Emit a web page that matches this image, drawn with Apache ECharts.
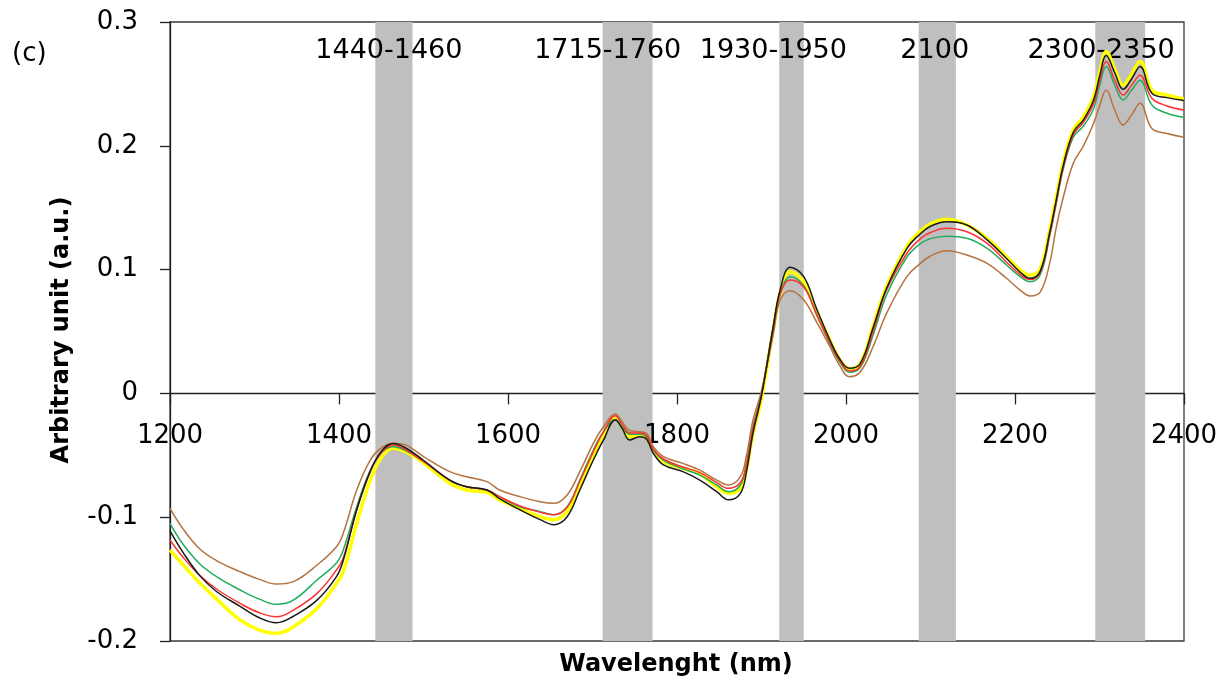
<!DOCTYPE html>
<html>
<head>
<meta charset="utf-8">
<title>NIR spectra (c)</title>
<script src="https://cdn.jsdelivr.net/npm/echarts@6.0.0/dist/echarts.min.js"></script>
<style>
  html, body { margin: 0; padding: 0; background: #ffffff; }
  #chart { width: 1229px; height: 684px; }
</style>
</head>
<body>
<div id="chart"></div>
<script>
// Wavelength grid (nm)
const wavelengths = [1200, 1215, 1235, 1255, 1283, 1305, 1326, 1346, 1374, 1397, 1405, 1421, 1437, 1450, 1464, 1480, 1500, 1531, 1551, 1575, 1590, 1614, 1638, 1654, 1670, 1685, 1701, 1713, 1727, 1735, 1744, 1756, 1764, 1772, 1784, 1807, 1827, 1847, 1861, 1875, 1882, 1890, 1900, 1914, 1922, 1934, 1950, 1965, 1981, 1992, 2004, 2017, 2032, 2048, 2072, 2088, 2100, 2119, 2143, 2167, 2190, 2206, 2218, 2230, 2241, 2249, 2257, 2269, 2281, 2293, 2300, 2308, 2318, 2328, 2338, 2348, 2362, 2380, 2400];

// Spectra (a.u.), one per sample
const yellowSpectrum = [-0.1265, -0.138, -0.153, -0.166, -0.183, -0.191, -0.1938, -0.1885, -0.1736, -0.1534, -0.144, -0.105, -0.070, -0.052, -0.0443, -0.0475, -0.056, -0.0726, -0.078, -0.080, -0.086, -0.093, -0.0996, -0.102, -0.0955, -0.0754, -0.051, -0.035, -0.020, -0.027, -0.035, -0.0336, -0.0363, -0.0457, -0.055, -0.0605, -0.065, -0.0754, -0.0807, -0.0767, -0.062, -0.032, -0.004, 0.052, 0.080, 0.0983, 0.090, 0.066, 0.043, 0.028, 0.020, 0.0243, 0.054, 0.0862, 0.1185, 0.131, 0.137, 0.1406, 0.136, 0.1253, 0.1104, 0.0997, 0.0956, 0.101, 0.132, 0.159, 0.186, 0.2128, 0.2235, 0.2397, 0.2586, 0.276, 0.262, 0.249, 0.258, 0.268, 0.245, 0.241, 0.2378];
const blackSpectrum = [-0.111, -0.128, -0.147, -0.160, -0.172, -0.181, -0.1852, -0.180, -0.167, -0.148, -0.135, -0.094, -0.063, -0.047, -0.0405, -0.0445, -0.054, -0.070, -0.0754, -0.078, -0.085, -0.094, -0.102, -0.106, -0.0996, -0.078, -0.0538, -0.0376, -0.0215, -0.0282, -0.0376, -0.035, -0.037, -0.0484, -0.0578, -0.0632, -0.070, -0.0794, -0.086, -0.0807, -0.064, -0.032, -0.002, 0.054, 0.0835, 0.1019, 0.0943, 0.0687, 0.0431, 0.0284, 0.0203, 0.0243, 0.053, 0.085, 0.117, 0.129, 0.135, 0.1387, 0.136, 0.124, 0.109, 0.098, 0.093, 0.099, 0.130, 0.157, 0.184, 0.211, 0.221, 0.237, 0.256, 0.273, 0.259, 0.2456, 0.254, 0.264, 0.2424, 0.2389, 0.2365];
const redSpectrum = [-0.1184, -0.132, -0.147, -0.158, -0.1696, -0.177, -0.1804, -0.175, -0.1615, -0.1427, -0.133, -0.094, -0.063, -0.048, -0.0417, -0.046, -0.055, -0.070, -0.0754, -0.078, -0.0834, -0.091, -0.096, -0.098, -0.092, -0.071, -0.047, -0.031, -0.018, -0.025, -0.032, -0.032, -0.034, -0.045, -0.053, -0.0595, -0.064, -0.072, -0.0767, -0.072, -0.058, -0.028, -0.001, 0.054, 0.080, 0.0916, 0.086, 0.064, 0.041, 0.027, 0.018, 0.022, 0.050, 0.0835, 0.113, 0.125, 0.130, 0.1334, 0.1306, 0.1212, 0.106, 0.096, 0.092, 0.098, 0.128, 0.155, 0.182, 0.209, 0.219, 0.234, 0.252, 0.268, 0.253, 0.241, 0.249, 0.257, 0.2384, 0.2322, 0.229];
const greenSpectrum = [-0.105, -0.1215, -0.1376, -0.148, -0.1588, -0.166, -0.1704, -0.167, -0.1507, -0.137, -0.1265, -0.0915, -0.062, -0.048, -0.043, -0.0465, -0.055, -0.070, -0.0754, -0.078, -0.0834, -0.0915, -0.0955, -0.098, -0.0915, -0.070, -0.0457, -0.031, -0.021, -0.027, -0.033, -0.033, -0.035, -0.046, -0.054, -0.061, -0.066, -0.074, -0.0794, -0.074, -0.057, -0.027, 0.000, 0.055, 0.080, 0.0943, 0.087, 0.064, 0.040, 0.026, 0.017, 0.021, 0.047, 0.0795, 0.110, 0.121, 0.125, 0.127, 0.1253, 0.1172, 0.1037, 0.0943, 0.0902, 0.096, 0.127, 0.154, 0.181, 0.207, 0.216, 0.230, 0.248, 0.264, 0.249, 0.237, 0.245, 0.253, 0.233, 0.2263, 0.223];
const brownSpectrum = [-0.0928, -0.109, -0.1255, -0.135, -0.144, -0.150, -0.154, -0.152, -0.1386, -0.1238, -0.113, -0.078, -0.0538, -0.044, -0.0403, -0.042, -0.051, -0.0632, -0.0673, -0.0713, -0.078, -0.0834, -0.0875, -0.0888, -0.082, -0.0632, -0.0403, -0.0269, -0.0166, -0.0228, -0.030, -0.031, -0.0322, -0.043, -0.051, -0.0565, -0.062, -0.070, -0.074, -0.0673, -0.051, -0.0215, 0.002, 0.048, 0.0755, 0.083, 0.0755, 0.058, 0.0377, 0.023, 0.0135, 0.0175, 0.0377, 0.0647, 0.0943, 0.105, 0.111, 0.1153, 0.1118, 0.105, 0.093, 0.0835, 0.0787, 0.082, 0.105, 0.1347, 0.158, 0.186, 0.200, 0.218, 0.232, 0.245, 0.229, 0.2168, 0.225, 0.2343, 0.214, 0.210, 0.2069];

// Highlighted absorption bands (nm) and their captions
const bandRanges = [[1443, 1487], [1712, 1771], [1921, 1950], [2086, 2130], [2295, 2354]];
const bandCaptions = ['1440-1460', '1715-1760', '1930-1950', '2100', '2300-2350'];
const captionWavelengths = [1459, 1718, 1914, 2105, 2302];
const captionLevel = 0.2766;

// Axis ranges, tick steps and wavelength tick labels
const xMin = 1200, xMax = 2400, xStep = 200;
const yMin = -0.2, yMax = 0.3, yStep = 0.1;
const xTickLabels = [1200, 1400, 1600, 1800, 2000, 2200, 2400];

const FONT = '"DejaVu Sans", sans-serif';

function pairs(ys) {
  return wavelengths.map((w, i) => [w, ys[i]]);
}

function spectrumSeries(name, ys, color, width, z) {
  return {
    name: name,
    type: 'line',
    data: pairs(ys),
    smooth: 0.4,
    showSymbol: false,
    symbol: 'none',
    lineStyle: { color: color, width: width },
    z: z,
    silent: true
  };
}

const chart = echarts.init(document.getElementById('chart'), null, { renderer: 'canvas' });

chart.setOption({
  animation: false,
  backgroundColor: '#ffffff',
  grid: {
    left: 170, right: 45, top: 22, bottom: 43,
    containLabel: false,
    outerBoundsMode: 'none',
    show: true, borderColor: '#3a3a3a', borderWidth: 1.3, backgroundColor: 'transparent'
  },
  xAxis: {
    type: 'value',
    min: xMin, max: xMax, interval: xStep,
    axisLine: { onZero: true, lineStyle: { color: '#222', width: 1.3 } },
    axisTick: { show: true, inside: false, length: 11, lineStyle: { color: '#222', width: 1.3 } },
    axisLabel: { show: false },
    splitLine: { show: false }
  },
  yAxis: {
    type: 'value',
    min: yMin, max: yMax, interval: yStep,
    axisLine: { show: true, onZero: false, lineStyle: { color: '#222', width: 1.3 } },
    axisTick: { show: true, inside: false, length: 10, lineStyle: { color: '#222', width: 1.3 } },
    axisLabel: {
      margin: 32, color: '#000', fontFamily: FONT, fontSize: 26,
      formatter: v => String(parseFloat(v.toFixed(1)))
    },
    splitLine: { show: false }
  },
  graphic: [
    {
      type: 'text', left: 12, top: 41,
      style: { text: '(c)', font: '26px ' + FONT, fill: '#000' }
    },
    {
      type: 'text', x: 676, y: 665,
      style: { text: 'Wavelenght (nm)', font: 'bold 24px ' + FONT, fill: '#000', align: 'center', verticalAlign: 'middle' }
    },
    {
      type: 'text', x: 62, y: 330, rotation: Math.PI / 2,
      style: { text: 'Arbitrary unit (a.u.)', font: 'bold 24px ' + FONT, fill: '#000', align: 'center', verticalAlign: 'middle' }
    }
  ],
  series: [
    {
      name: 'bands',
      type: 'custom',
      silent: true,
      z: 1,
      data: bandRanges,
      renderItem: function (params, api) {
        const p0 = api.coord([api.value(0), yMax]);
        const p1 = api.coord([api.value(1), yMin]);
        return {
          type: 'rect',
          shape: { x: p0[0], y: p0[1], width: p1[0] - p0[0], height: p1[1] - p0[1] },
          style: { fill: '#bfbfbf' }
        };
      }
    },
    {
      name: 'captions',
      type: 'custom',
      silent: true,
      z: 3,
      data: captionWavelengths.map((w, i) => [w, captionLevel]),
      renderItem: function (params, api) {
        const p = api.coord([api.value(0), api.value(1)]);
        return {
          type: 'text',
          x: p[0], y: p[1],
          style: {
            text: bandCaptions[params.dataIndex],
            font: '27px ' + FONT, fill: '#000',
            align: 'center', verticalAlign: 'middle'
          }
        };
      }
    },
    {
      // wavelength labels hang below the zero line
      name: 'xTickText',
      type: 'custom',
      silent: true,
      z: 3,
      clip: false,
      data: xTickLabels.map(w => [w, 0]),
      renderItem: function (params, api) {
        const p = api.coord([api.value(0), api.value(1)]);
        return {
          type: 'text',
          x: p[0], y: p[1] + 43,
          style: {
            text: String(xTickLabels[params.dataIndex]),
            font: '26px ' + FONT, fill: '#000',
            align: 'center', verticalAlign: 'middle'
          }
        };
      }
    },
    spectrumSeries('S5', yellowSpectrum, '#ffff00', 3.5, 4),
    spectrumSeries('S4', brownSpectrum, '#b5733f', 1.5, 5),
    spectrumSeries('S3', greenSpectrum, '#22ad5c', 1.5, 6),
    spectrumSeries('S2', redSpectrum, '#ff3030', 1.5, 7),
    spectrumSeries('S1', blackSpectrum, '#1a1a1a', 1.5, 8)
  ]
});
</script>
</body>
</html>
